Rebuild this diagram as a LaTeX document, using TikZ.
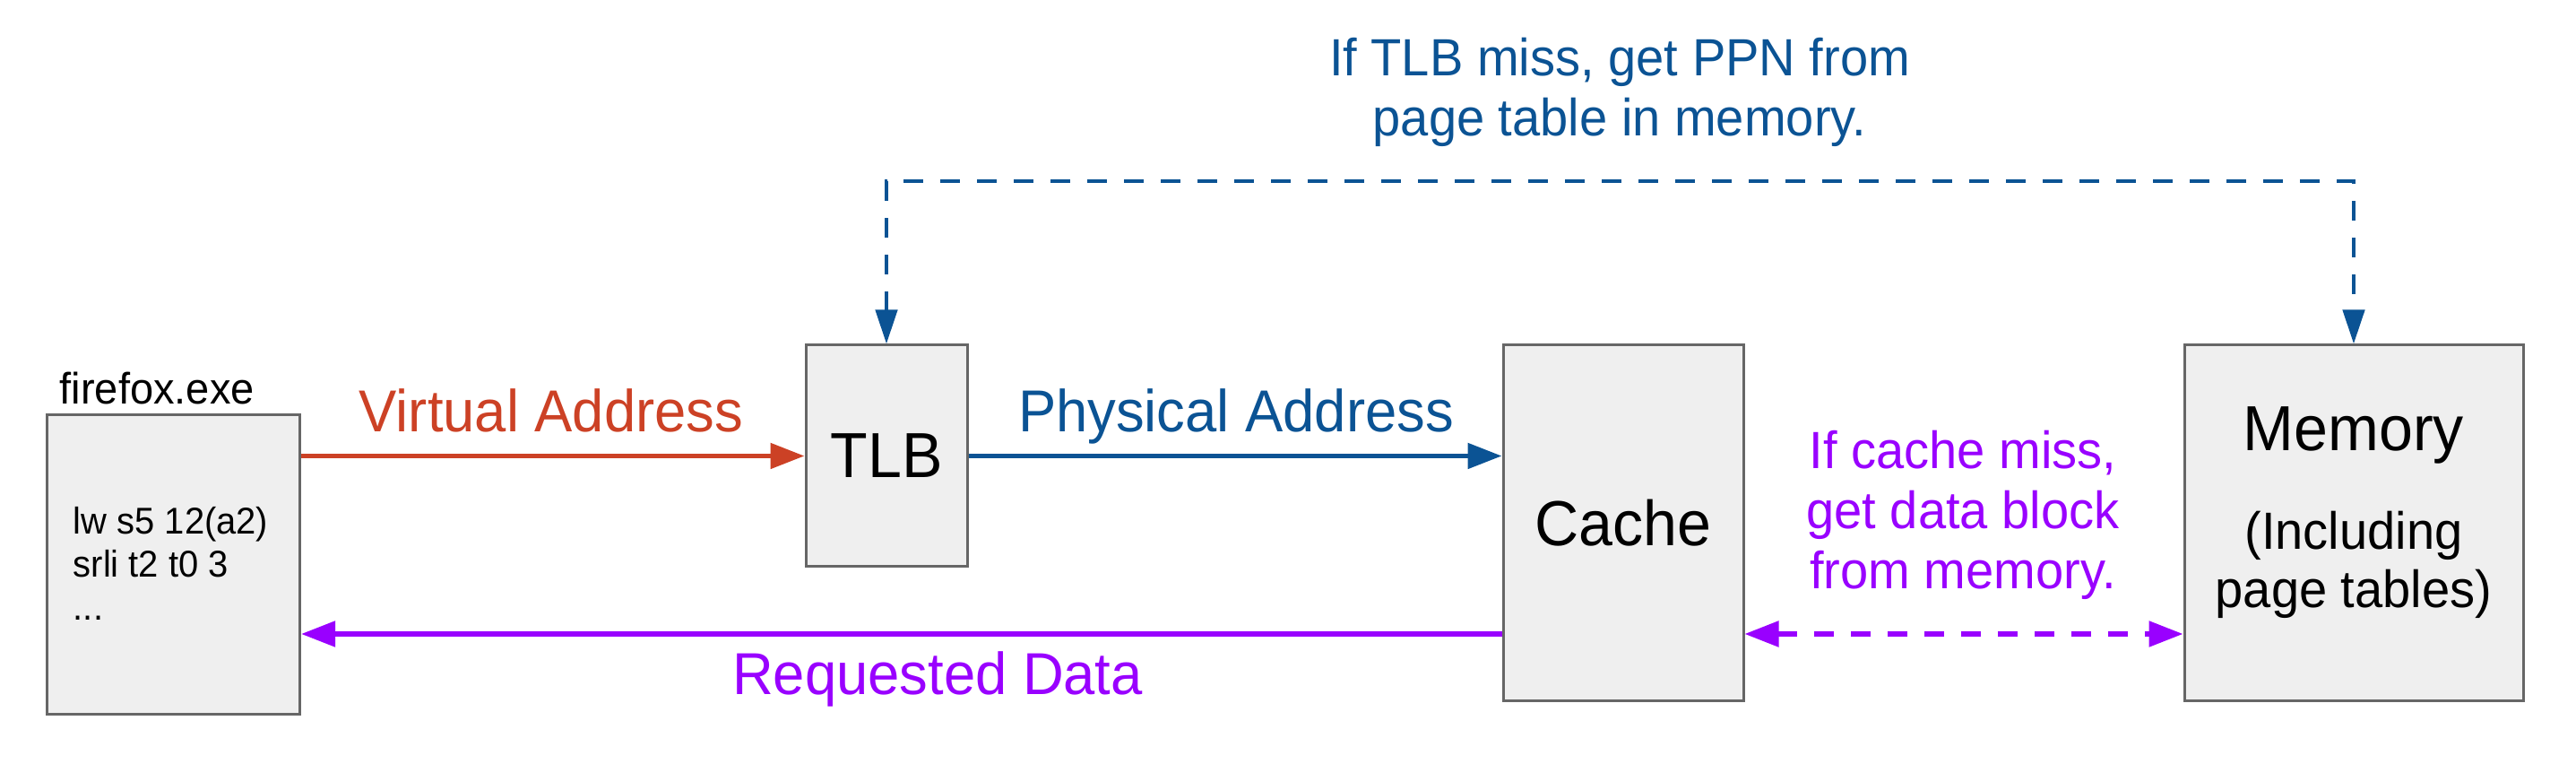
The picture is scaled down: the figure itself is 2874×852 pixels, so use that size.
\documentclass[tikz,border=0pt]{standalone}
\usepackage{fontspec}
\setmainfont{Liberation Sans}[FakeStretch=0.96]
\usetikzlibrary{arrows.meta}

\definecolor{vacolor}{RGB}{204,65,37}
\definecolor{pacolor}{RGB}{11,83,148}
\definecolor{rdcolor}{RGB}{153,0,255}
\definecolor{boxfill}{RGB}{239,239,239}
\definecolor{boxline}{RGB}{102,102,102}

\begin{document}
\begin{tikzpicture}[x=0.25pt,y=0.25pt,yscale=-1,xscale=1,
  block/.style={draw=boxline,fill=boxfill,line width=0.75pt,inner sep=0pt},
  bigtxt/.style={font=\fontsize{17.75}{21}\selectfont},
  arrtxt/.style={font=\fontsize{16.5}{20}\selectfont,anchor=base,inner sep=0pt},
  notetxt/.style={font=\fontsize{14.6}{16.75}\selectfont,align=center,anchor=base,inner sep=0pt},
  solidtip/.style={-{Triangle[length=9.5pt,width=7pt]}},
  missline/.style={line width=1.15pt,dash pattern=on 5.5pt off 4.75pt}]
\useasboundingbox (0,0) rectangle (2874,852);

%Shape: boxes
\node[block,minimum width=70.5pt,minimum height=83.5pt] (ff) at (193.6,630) {};
\node[block,bigtxt,minimum width=45pt,minimum height=61.75pt] (tlb) at (989,508.5) {TLB};
\node[block,bigtxt,minimum width=67pt,minimum height=99.25pt] (cache) at (1811,583.5) {Cache};
\node[block,minimum width=94.5pt,minimum height=99.25pt] (mem) at (2626,583.5) {};

%Coordinates for the lower and upper lines
\coordinate (ret) at (0,707);
\coordinate (top) at (1800,202);

%Straight Lines
\draw[vacolor,line width=1.3pt,solidtip] (ff.east |- tlb) -- (tlb.west);
\draw[pacolor,line width=1.3pt,solidtip] (tlb.east) -- (cache.west |- tlb);
\draw[rdcolor,line width=1.3pt,solidtip] (cache.west |- ret) -- (ff.east |- ret);
\draw[rdcolor,missline,line width=1.35pt,{Triangle[length=9.5pt,width=7pt]}-{Triangle[length=9.5pt,width=7pt]}] (cache.east |- ret) -- (mem.west |- ret);
\draw[pacolor,missline,{Triangle[length=9.5pt,width=6pt]}-{Triangle[length=9.5pt,width=6pt]}] (tlb.north) |- (top) -| (mem.north);

% Text Node (base = last line)
\node[anchor=base west,inner sep=0pt,font=\fontsize{12.25}{14}\selectfont] (fflabel) at (66,451) {firefox.exe};
\node[anchor=base west,inner sep=0pt,align=left,font=\fontsize{10.4}{12.1}\selectfont] (code) at (81,692) {lw s5 12(a2)\\srli t2 t0 3\\...};
\node[arrtxt,text=vacolor] (va) at (615,482) {Virtual Address};
\node[arrtxt,text=pacolor] (pa) at (1379,482) {Physical Address};
\node[arrtxt,text=rdcolor] (rd) at (1046,775) {Requested Data};
\node[notetxt,text=pacolor] (tlbmiss) at (1807,152) {If TLB miss, get PPN from\\page table in memory.};
\node[notetxt,text=rdcolor] (cachemiss) at (2190,657) {If cache miss,\\get data block\\from memory.};
\node[bigtxt,anchor=base,inner sep=0pt] (memlabel) at (2626,503) {Memory};
\node[notetxt,font=\fontsize{14.6}{16.25}\selectfont] (memsub) at (2626,678) {(Including\\page tables)};

\end{tikzpicture}
\end{document}
